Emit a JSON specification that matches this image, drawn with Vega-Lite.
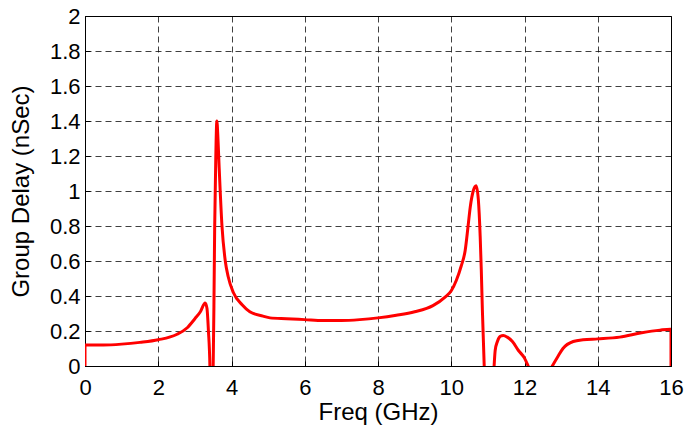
{
  "$schema": "https://vega.github.io/schema/vega-lite/v6.json",
  "width": 586,
  "height": 350,
  "autosize": {"type": "none"},
  "padding": {"left": 85, "top": 16, "right": 15, "bottom": 61},
  "background": "white",
  "config": {
    "view": {"stroke": "#000", "strokeWidth": 1},
    "axis": {
      "labelFont": "Liberation Sans",
      "titleFont": "Liberation Sans",
      "labelColor": "#000",
      "titleColor": "#000",
      "labelFontSize": 22,
      "titleFontSize": 24,
      "titleFontWeight": "normal",
      "domainColor": "#000",
      "tickColor": "#000",
      "tickSize": -5,
      "gridColor": "#000",
      "gridOpacity": 0.75,
      "gridDash": [6, 4],
      "gridWidth": 1
    }
  },
  "data": {
    "values": [
      {"f": 0, "gd": 0},
      {"f": 0, "gd": 0.12},
      {"f": 0.5, "gd": 0.12},
      {"f": 1.0, "gd": 0.125},
      {"f": 1.5, "gd": 0.135},
      {"f": 2.0, "gd": 0.15},
      {"f": 2.5, "gd": 0.18},
      {"f": 2.8, "gd": 0.22},
      {"f": 3.0, "gd": 0.27},
      {"f": 3.15, "gd": 0.31},
      {"f": 3.28, "gd": 0.36},
      {"f": 3.33, "gd": 0.33},
      {"f": 3.37, "gd": 0.2},
      {"f": 3.41, "gd": 0},
      {"f": 3.44, "gd": -0.5},
      {"f": 3.48, "gd": -0.5},
      {"f": 3.5, "gd": 0},
      {"f": 3.52, "gd": 0.34},
      {"f": 3.54, "gd": 0.78},
      {"f": 3.57, "gd": 1.18},
      {"f": 3.6, "gd": 1.4},
      {"f": 3.63, "gd": 1.3},
      {"f": 3.66, "gd": 1.15},
      {"f": 3.74, "gd": 0.8},
      {"f": 3.83, "gd": 0.6},
      {"f": 3.91, "gd": 0.51},
      {"f": 4.05, "gd": 0.42},
      {"f": 4.29, "gd": 0.35},
      {"f": 4.5, "gd": 0.31},
      {"f": 4.86, "gd": 0.285},
      {"f": 5.05, "gd": 0.275},
      {"f": 5.5, "gd": 0.27},
      {"f": 6.0, "gd": 0.265},
      {"f": 6.5, "gd": 0.26},
      {"f": 7.0, "gd": 0.26},
      {"f": 7.5, "gd": 0.265},
      {"f": 8.0, "gd": 0.275},
      {"f": 8.5, "gd": 0.29},
      {"f": 9.0, "gd": 0.31},
      {"f": 9.5, "gd": 0.345},
      {"f": 9.84, "gd": 0.395},
      {"f": 10.0, "gd": 0.43},
      {"f": 10.14, "gd": 0.49},
      {"f": 10.27, "gd": 0.57},
      {"f": 10.38, "gd": 0.66},
      {"f": 10.46, "gd": 0.8},
      {"f": 10.52, "gd": 0.91},
      {"f": 10.6, "gd": 1.0},
      {"f": 10.68, "gd": 1.03},
      {"f": 10.74, "gd": 0.95},
      {"f": 10.79, "gd": 0.74},
      {"f": 10.82, "gd": 0.55},
      {"f": 10.85, "gd": 0.32},
      {"f": 10.9, "gd": 0},
      {"f": 11.0, "gd": -0.3},
      {"f": 11.1, "gd": -0.3},
      {"f": 11.17, "gd": 0},
      {"f": 11.2, "gd": 0.09},
      {"f": 11.26, "gd": 0.14},
      {"f": 11.34, "gd": 0.17},
      {"f": 11.42, "gd": 0.175},
      {"f": 11.53, "gd": 0.165},
      {"f": 11.67, "gd": 0.14},
      {"f": 11.83, "gd": 0.09},
      {"f": 12.0, "gd": 0.045},
      {"f": 12.1, "gd": 0},
      {"f": 12.4, "gd": -0.15},
      {"f": 12.76, "gd": 0},
      {"f": 12.9, "gd": 0.05},
      {"f": 13.05, "gd": 0.1},
      {"f": 13.33, "gd": 0.14},
      {"f": 13.6, "gd": 0.15},
      {"f": 14.0, "gd": 0.155},
      {"f": 14.6, "gd": 0.165},
      {"f": 15.2, "gd": 0.19},
      {"f": 15.7, "gd": 0.205},
      {"f": 15.98, "gd": 0.21},
      {"f": 16.0, "gd": 0.21},
      {"f": 16.0, "gd": 0}
    ]
  },
  "mark": {"type": "line", "color": "#ff0000", "strokeWidth": 3, "clip": true, "strokeJoin": "round", "interpolate": "monotone"},
  "encoding": {
    "order": {"value": null},
    "x": {
      "field": "f",
      "type": "quantitative",
      "scale": {"domain": [0, 16], "nice": false, "zero": false},
      "axis": {"values": [0, 2, 4, 6, 8, 10, 12, 14, 16], "title": "Freq (GHz)", "labelPadding": 16, "titlePadding": 2, "labelFlush": false, "format": "~g"}
    },
    "y": {
      "field": "gd",
      "type": "quantitative",
      "scale": {"domain": [0, 2], "nice": false, "zero": false},
      "axis": {"values": [0, 0.2, 0.4, 0.6, 0.8, 1, 1.2, 1.4, 1.6, 1.8, 2], "title": "Group Delay (nSec)", "labelPadding": 10, "titlePadding": 16, "labelFlush": false, "format": "~g"}
    }
  }
}
